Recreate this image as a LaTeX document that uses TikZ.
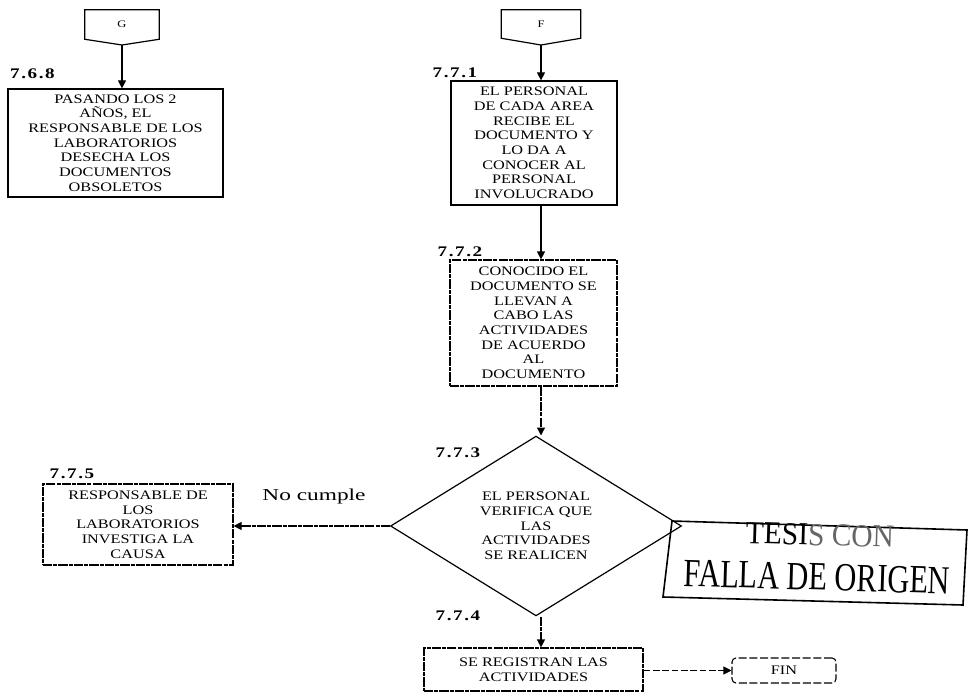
\documentclass[tikz,border=0pt]{standalone}
\usepackage{fontspec}
\usepackage{graphicx}
\usetikzlibrary{arrows.meta,shapes.geometric}
% Fonts: a widened Times-like face for the flowchart, a narrowed one for the stamp
\newfontfamily\boxfont[FakeStretch=1.25]{Liberation Serif}
\newfontfamily\numfont[FakeStretch=1.3]{Liberation Serif}
\newfontfamily\notefont[FakeStretch=1.4]{Liberation Serif}
\newfontfamily\stampfont{Liberation Serif}
\newcommand\ks{\kern1.2pt}
\newcommand\secno[3]{#1\ks.\ks#2\ks.\ks#3}
\def\pxu{0.75pt}

\begin{document}
\begin{tikzpicture}[x=0.75pt, y=-0.75pt,
  boxtext/.style={font={\boxfont\fontsize{9.75}{11}\selectfont}},
  solidbox/.style={draw, line width=0.9pt, align=center, inner sep=1pt, boxtext},
  worn/.style={dash pattern=on 7pt off 0.8pt on 3pt off 0.8pt},
  conn/.style={inner sep=0pt, font={\boxfont\fontsize{7.5}{8}\selectfont}},
  secnum/.style={font={\numfont\bfseries\fontsize{11}{12}\selectfont}, inner sep=0pt},
  arr/.style={line width=0.9pt, -{Triangle[length=6pt,width=6pt]}},
]
\useasboundingbox (0,0) rectangle (968,692);

% ---- off-page connectors ----
\node[conn, minimum width=74*\pxu, minimum height=29*\pxu] (G) at (122,24.5) {G};
\coordinate (Gtip) at (122,45);
\draw[line width=0.9pt] (G.north west) -- (G.north east) -- (G.south east) -- (Gtip) -- (G.south west) -- cycle;

\node[conn, minimum width=79*\pxu, minimum height=28*\pxu] (F) at (541,24) {F};
\coordinate (Ftip) at (541,45);
\draw[line width=0.9pt] (F.north west) -- (F.north east) -- (F.south east) -- (Ftip) -- (F.south west) -- cycle;

% ---- left branch ----
\node[solidbox, minimum width=215*\pxu, minimum height=108*\pxu] (b768) at (115.5,143)
  {PASANDO LOS 2\\AÑOS, EL\\RESPONSABLE DE LOS\\LABORATORIOS\\DESECHA LOS\\DOCUMENTOS\\OBSOLETOS};
\node[secnum] (l768) at (32.5,73.5) {\secno{7}{6}{8}};
\draw[arr] (Gtip) -- (Gtip |- b768.north);

% ---- main column ----
\node[solidbox, minimum width=166*\pxu, minimum height=124*\pxu] (b771) at (534,143)
  {EL PERSONAL\\DE CADA AREA\\RECIBE EL\\DOCUMENTO Y\\LO DA A\\CONOCER AL\\PERSONAL\\INVOLUCRADO};
\node[secnum] (l771) at (455,73) {\secno{7}{7}{1}};
\draw[arr] (Ftip) -- (Ftip |- b771.north);

\node[solidbox, worn, minimum width=167*\pxu, minimum height=126*\pxu] (b772) at (533.5,323)
  {CONOCIDO EL\\DOCUMENTO SE\\LLEVAN A\\CABO LAS\\ACTIVIDADES\\DE ACUERDO\\AL\\DOCUMENTO};
\node[secnum] (l772) at (460,252) {\secno{7}{7}{2}};
\draw[arr] (b771.south -| Ftip) -- (b772.north -| Ftip);

\node[draw, diamond, line width=0.9pt, inner sep=0pt, minimum width=291*\pxu, minimum height=154*\pxu,
      align=center, boxtext] (d773) at (536,526)
  {EL PERSONAL\\VERIFICA QUE\\LAS\\ACTIVIDADES\\SE REALICEN};
\node[secnum] (l773) at (458,453) {\secno{7}{7}{3}};
\draw[arr, worn] (b772.south -| Ftip) -- (d773.north -| Ftip);

\node[solidbox, worn, minimum width=219*\pxu, minimum height=43*\pxu] (b774) at (533.5,669.5)
  {SE REGISTRAN LAS\\ACTIVIDADES};
\node[secnum] (l774) at (458,616) {\secno{7}{7}{4}};
\draw[arr, worn] (d773.south -| Ftip) -- (b774.north -| Ftip);

\node[draw, line width=0.8pt, dash pattern=on 6pt off 2pt, rounded corners=3pt,
      minimum width=104*\pxu, minimum height=25*\pxu, boxtext] (fin) at (784,670.5) {FIN};
\draw[line width=0.7pt, dash pattern=on 5pt off 2pt, -{Triangle[length=6pt,width=6pt]}]
  (b774.east |- fin.west) -- (fin.west);

% ---- "no" branch ----
\node[solidbox, worn, minimum width=190*\pxu, minimum height=81*\pxu] (b775) at (138,524.5)
  {RESPONSABLE DE\\LOS\\LABORATORIOS\\INVESTIGA LA\\CAUSA};
\node[secnum] (l775) at (72,474) {\secno{7}{7}{5}};
\draw[arr, worn] (d773.west) -- (d773.west -| b775.east);
\node[font={\notefont\fontsize{12.5}{14}\selectfont}, inner sep=0pt] (nc) at (314,496.5) {No cumple};

% ---- stamp ----
\coordinate (s1) at (672,521);
\coordinate (s2) at (967,530);
\coordinate (s3) at (963,605);
\coordinate (s4) at (663,597);
\draw[line width=1.2pt, line join=miter] (s1) -- (s2) -- (s3) -- (s4) -- cycle;
\node[rotate=-1.7, inner sep=0pt] (stampA) at (820,535)
  {\stampfont\fontsize{24}{26}\selectfont\scalebox{0.92}[1]{TESI\textcolor{black!60}{S CON}}};
\node[rotate=-1.7, inner sep=0pt] (stampB) at (817,577)
  {\stampfont\fontsize{30}{32}\selectfont\scalebox{0.76}[1]{FALLA DE ORIGEN}};
\end{tikzpicture}
\end{document}
